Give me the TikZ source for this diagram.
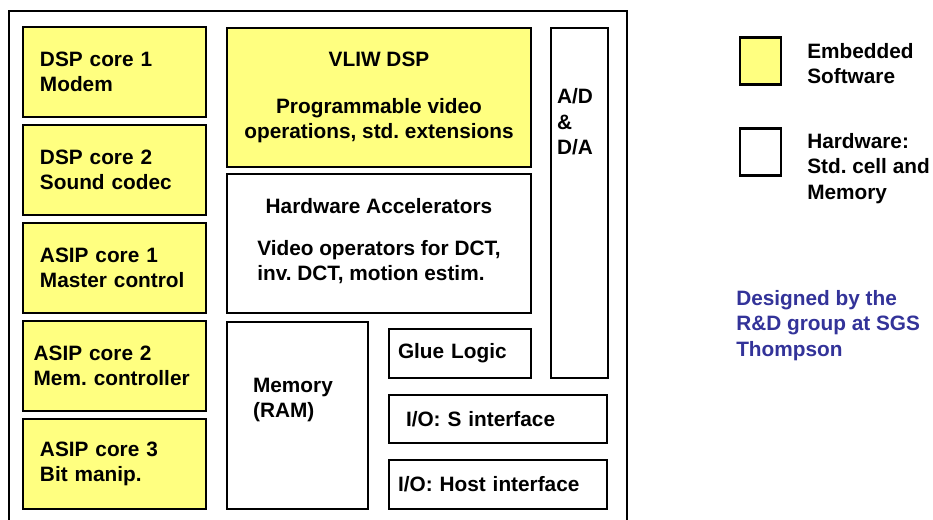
\documentclass[tikz,border=0pt]{standalone}
\usepackage{fontspec}
\setmainfont{Liberation Sans}
\usetikzlibrary{positioning}
\definecolor{swyellow}{RGB}{255,255,128}
\definecolor{noteblue}{RGB}{51,51,153}
\tikzset{
every node/.style={font=\frenchspacing\fontsize{15.6pt}{19pt}\selectfont\bfseries},
box/.style= {rectangle, draw, line width=1.9pt, fill=white},
sw/.style= {fill=swyellow},
core/.style= {box, sw, align=left, minimum width=137.25pt, minimum height=67.5pt, inner xsep=12.75pt, text width=111.75pt},
key/.style= {box, minimum width=30.75pt, minimum height=35.25pt},
note/.style= {align=left, inner sep=0pt, anchor=north west}
}

\begin{document}
\begin{tikzpicture}[x=0.75pt,y=-0.75pt]
\useasboundingbox (0,0) rectangle (933,519);
\clip (0,0) rectangle (933,519);

% chip outline
\draw[line width=1.9pt] (9,530) |- (627,11) -- (627,530);

% processor cores
\node[core] (dsp1) at (114.5,72) {DSP core 1\\Modem};
\node[core,below=4.1pt of dsp1] (dsp2) {DSP core 2\\Sound codec};
\node[core,below=4.1pt of dsp2] (asip1) {ASIP core 1\\Master control};
\node[core,below=4.1pt of asip1,inner xsep=8pt,text width=121.25pt] (asip2) {ASIP core 2\\Mem. controller};
\node[core,below=4.1pt of asip2] (asip3) {ASIP core 3\\Bit manip.};

\node[box,sw,align=center,minimum width=228pt,minimum height=104.25pt] (vliw) at (379,97.5) {VLIW DSP\\[16pt]Programmable video\\operations, std. extensions};
\node[box,align=center,below=3.35pt of vliw,minimum width=228pt,minimum height=104.25pt] (hwa) {Hardware Accelerators\\[12pt]\begin{tabular}[t]{@{}l@{}}Video operators for DCT,\\inv. DCT, motion estim.\end{tabular}};

\node[box,below=4.85pt of hwa.south west,anchor=north west,minimum width=105.75pt,minimum height=140.25pt,
  label={[name=memtext,align=left,xshift=-3.4pt,yshift=11.6pt]center:{Memory\\(RAM)}}] (mem) {};
\node[box,right=13.1pt of vliw.north east,anchor=north west,minimum width=42.75pt,minimum height=262.5pt,
  label={[name=adtext,align=left,xshift=-3.4pt,yshift=61pt]center:{A/D\\\&\\D/A}}] (ad) {};

\node[box,align=left,below=10.1pt of hwa.south east,anchor=north east,minimum width=106.5pt,minimum height=36.75pt,inner xsep=6.75pt,text width=93pt] (glue) {Glue Logic};
\node[box,align=left,below=10.85pt of glue.south west,anchor=north west,minimum width=163.5pt,minimum height=36pt,inner xsep=12.75pt,text width=138pt] (ios) {I/O: S interface};
\node[box,align=left,below=10.85pt of ios.south west,anchor=north west,minimum width=163.5pt,minimum height=36.75pt,inner xsep=6.75pt,text width=150pt] (ioh) {I/O: Host interface};

% legend
\node[key,sw] (swkey) at (760.5,61) {};
\node[key] (hwkey) at (760.5,152) {};
\node[note] (swtext) at (807,43) {Embedded\\Software};
\node[note] (hwtext) at (807,133) {Hardware:\\Std. cell and\\Memory};
\node[note,text=noteblue] (credit) at (736,290) {Designed by the\\R\&D group at SGS\\Thompson};
\end{tikzpicture}
\end{document}
